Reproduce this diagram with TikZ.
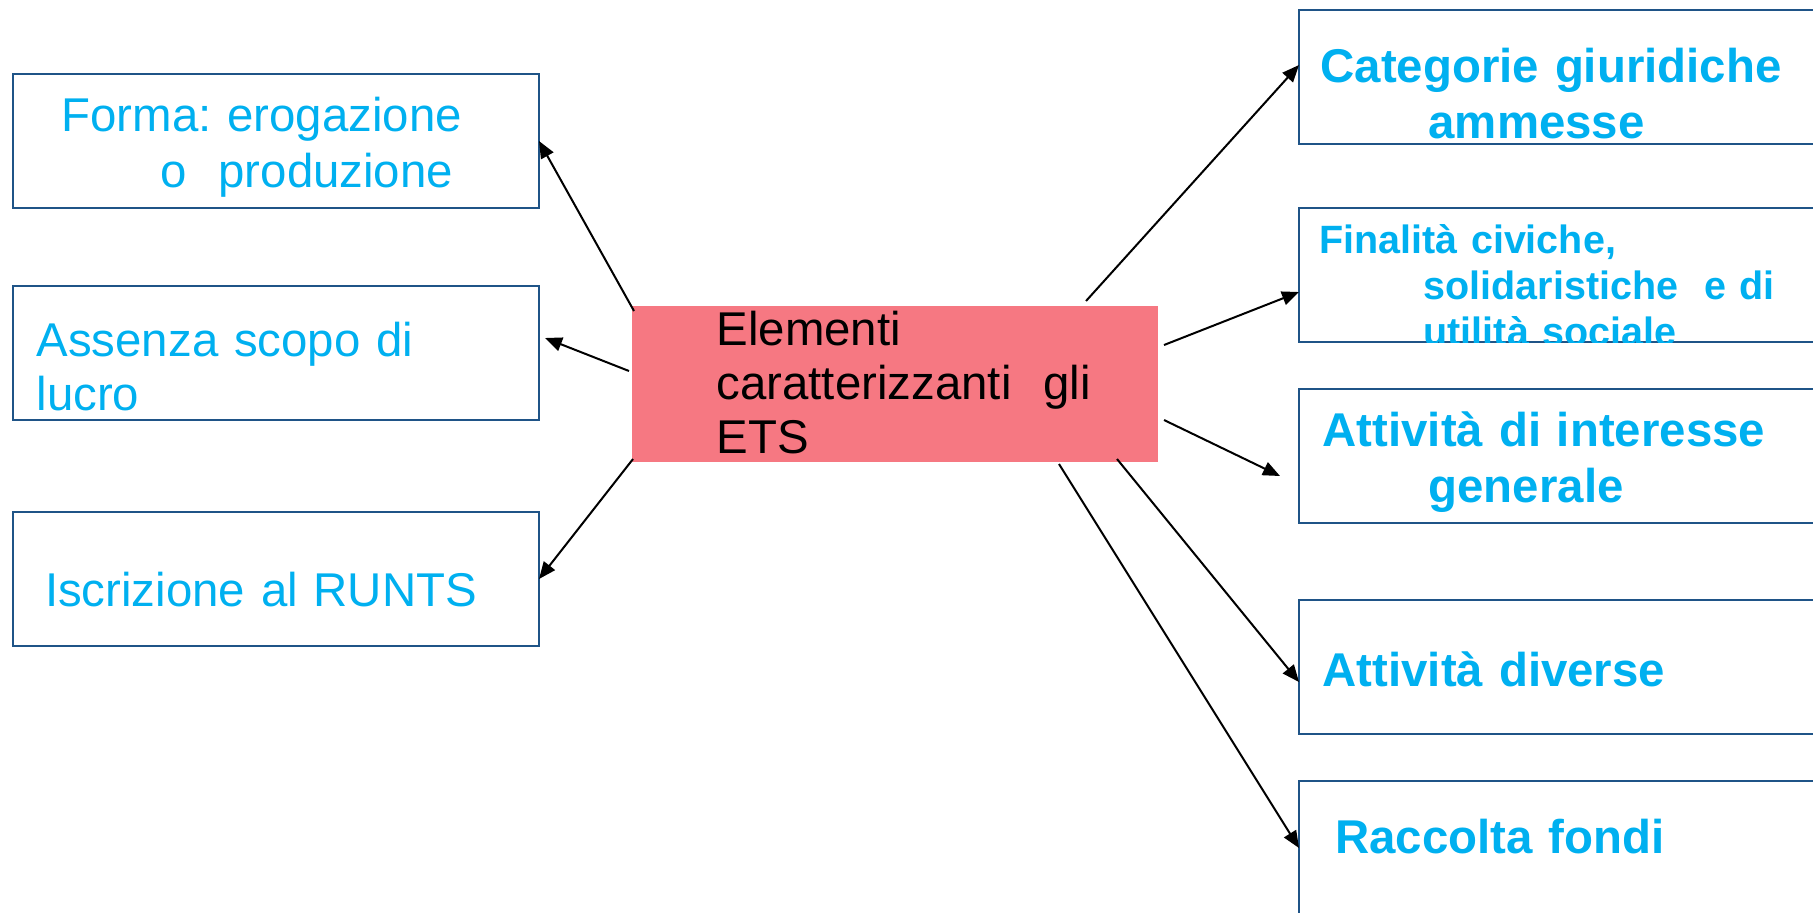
\documentclass[tikz,border=0pt]{standalone}
\usepackage{fontspec}
\setmainfont{Liberation Sans}
\usepackage{xcolor}
\usetikzlibrary{calc, positioning, arrows.meta}
\definecolor{boxblue}{RGB}{31,84,135}
\definecolor{txtcyan}{RGB}{0,176,240}
\definecolor{etspink}{RGB}{246,120,130}
\frenchspacing

\begin{document}
\begin{tikzpicture}[
    x=0.5pt, y=-0.5pt,
    semithick,
    ]
    \tikzstyle{item box}=[draw=boxblue, line width=0.65pt, fill=white, inner sep=0pt, outer sep=0pt, minimum width=263pt, minimum height=67pt]
    \tikzstyle{left txt}=[anchor=base west, inner sep=0pt, text width=300pt, align=left, text=txtcyan, font=\fontsize{23.7}{28}\selectfont]
    \tikzstyle{right txt}=[left txt, font=\fontsize{23.7}{28}\selectfont\bfseries]
    \tikzstyle{link}=[-{Triangle[length=8.5pt,width=7pt]}, line width=1pt, black]
    \useasboundingbox (0,0) rectangle (1813,912);
    % left column
    \node[item box, anchor=north west] (forma) at (13,74) {};
    \node[item box] (assenza) [below=39pt of forma] {};
    \node[item box] (iscr) [below=46pt of assenza] {};
    % centre
    \node[fill=etspink, inner sep=0pt, outer sep=0pt, minimum width=263pt, minimum height=78pt, anchor=north west] (ets) at (632,306) {};
    % right column
    \node[item box, anchor=north west] (categ) at (1299,10) {};
    \node[item box] (finalita) [below=32pt of categ] {};
    \node[item box] (interesse) [below=23.5pt of finalita] {};
    \node[item box] (diverse) [below=38.5pt of interesse] {};
    \node[item box] (raccolta) [below=23.5pt of diverse] {};

    \node[left txt] (forma t) at (61,131) {Forma: erogazione\\\hspace*{49.5pt}o\ \ produzione};
    \node[left txt, font=\fontsize{23.7}{27}\selectfont] (assenza t) at (36,356.7) {Assenza scopo di\\lucro};
    \node[left txt] (iscr t) at (44.5,606) {Iscrizione al RUNTS};
    \node[left txt, text=black, font=\fontsize{23.7}{27}\selectfont] (ets t) at (716,345) {Elementi\\caratterizzanti\ \ gli\\ETS};
    \node[right txt] (categ t) at (1320,82.3) {Categorie giuridiche\\\hspace*{54pt}ammesse};
    \begin{scope}
      \clip (finalita.north west) rectangle (finalita.south east);
      \node[right txt, font=\fontsize{19.75}{23}\selectfont\bfseries] (finalita t) at (1319,253.3) {Finalità civiche,\\\hspace*{52pt}solidaristiche\ \ e di\\\hspace*{52pt}utilità sociale};
    \end{scope}
    \node[right txt] (interesse t) at (1322,446.7) {Attività di interesse\\\hspace*{53pt}generale};
    \node[right txt] (diverse t) at (1322,686) {Attività diverse};
    \node[right txt] (raccolta t) at (1334.5,853) {Raccolta fondi};

    \draw[link] ($(ets.north west)+(2,5)$) -- (forma.east);
    \draw[link] ($(ets.west)+(-3,-13)$) -- ($(assenza.east)+(6,-15)$);
    \draw[link] ($(ets.south west)+(1,-3)$) -- (iscr.east);
    \draw[link] ($(ets.north east)+(-72,-5)$) -- ($(categ.west)+(0,-12)$);
    \draw[link] ($(ets.east)+(6,-39)$) -- ($(finalita.west)+(0,17)$);
    \draw[link] ($(ets.east)+(6,36)$) -- ($(interesse.west)+(-19,20)$);
    \draw[link] ($(ets.south east)+(-41,-3)$) -- ($(diverse.west)+(0,15)$);
    \draw[link] ($(ets.south east)+(-99,2)$) -- (raccolta.west);
\end{tikzpicture}
\end{document}
